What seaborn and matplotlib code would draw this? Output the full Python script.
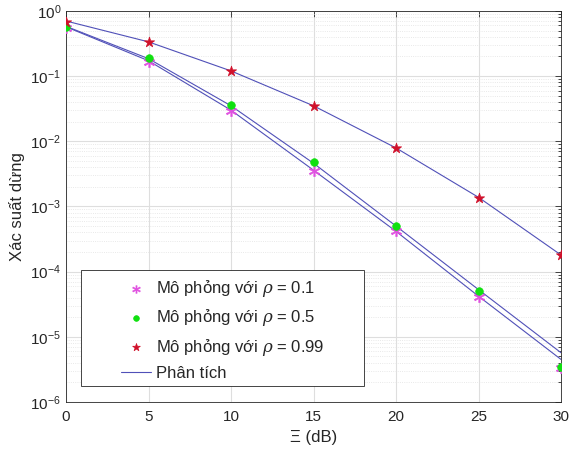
import numpy as np
import pandas as pd
import matplotlib
matplotlib.use("Agg")
import matplotlib.pyplot as plt
from matplotlib.patches import Rectangle
import seaborn as sns
from matplotlib.ticker import FixedLocator, NullFormatter, MultipleLocator, LogFormatterSciNotation

# SNR axis (dB)
xi_db = [0, 5, 10, 15, 20, 25, 30]

# Simulated outage probability
sim_rho_01 = [0.55, 0.167, 0.0296, 0.00352, 4.2e-4, 4.07e-5, 3.3e-6]
sim_rho_05 = [0.56, 0.19, 0.0357, 0.0048, 5.1e-4, 5.08e-5, 3.47e-6]
sim_rho_099 = [0.685, 0.338, 0.121, 0.0349, 0.00784, 0.00137, 1.81e-4]

# Analytical outage probability
ana_rho_01 = [0.57, 0.172, 0.0300, 0.00360, 4.15e-4, 4.2e-5, 4.5e-6]
ana_rho_05 = [0.58, 0.185, 0.0350, 0.0046, 5.0e-4, 5.3e-5, 5.7e-6]
ana_rho_099 = [0.70, 0.335, 0.120, 0.0350, 0.0079, 0.00138, 1.8e-4]

# y-axis decades
y_decades = [-6, -5, -4, -3, -2, -1, 0]

sim_labels = [r"Mô phỏng với $\rho$ = 0.1",
              r"Mô phỏng với $\rho$ = 0.5",
              r"Mô phỏng với $\rho$ = 0.99"]
ana_label = "Phân tích"

sns.set_style("white")
plt.rcParams["font.family"] = ["Liberation Sans", "DejaVu Sans"]
plt.rcParams["mathtext.fontset"] = "dejavuserif"

sim = pd.DataFrame({
    "xi": xi_db * 3,
    "p": sim_rho_01 + sim_rho_05 + sim_rho_099,
    "case": [sim_labels[0]] * 7 + [sim_labels[1]] * 7 + [sim_labels[2]] * 7,
})
ana = pd.DataFrame({
    "xi": xi_db * 3,
    "p": ana_rho_01 + ana_rho_05 + ana_rho_099,
    "curve": ["a"] * 7 + ["b"] * 7 + ["c"] * 7,
})

fig = plt.figure(figsize=(5.69, 4.54), dpi=100)
ax = fig.add_axes([0.116, 0.1145, 0.870, 0.8615])

line_color = "#5050b8"
sns.lineplot(data=ana, x="xi", y="p", units="curve", estimator=None,
             color=line_color, linewidth=0.8, ax=ax, legend=False)

marker_styles = {
    sim_labels[0]: dict(marker="$\\ast$", color="#e050e0", s=55),
    sim_labels[1]: dict(marker="o", color="#10e010", s=30),
    sim_labels[2]: dict(marker="*", color="#d0102a", s=60),
}
for lab in sim_labels:
    st = marker_styles[lab]
    sns.scatterplot(data=sim[sim["case"] == lab], x="xi", y="p",
                    marker=st["marker"], color=st["color"], s=st["s"],
                    edgecolor=st["color"] if st["marker"] != "$\\ast$" else None,
                    linewidth=0.5, ax=ax, label=lab, zorder=3)

ax.plot([], [], color=line_color, linewidth=0.8, label=ana_label)

ax.set_yscale("log")
ax.set_xlim(0, 30)
ax.set_ylim(1e-6, 1)
ax.xaxis.set_major_locator(MultipleLocator(5))
major_y = [10.0 ** d for d in y_decades]
minor_y = [m * 10.0 ** d for d in y_decades[:-1] for m in range(2, 10)]
ax.yaxis.set_major_locator(FixedLocator(major_y))
ax.yaxis.set_major_formatter(LogFormatterSciNotation())
ax.yaxis.set_minor_locator(FixedLocator(minor_y))
ax.yaxis.set_minor_formatter(NullFormatter())

ax.grid(True, which="major", color="#dedede", linewidth=0.8, linestyle="-")
ax.grid(True, which="minor", axis="y", color="#e2e2e2", linewidth=0.6, linestyle=":")
ax.set_axisbelow(True)

for s in ax.spines.values():
    s.set_color("#262626")
    s.set_linewidth(0.6)
ax.tick_params(which="both", direction="in", top=True, right=True,
               colors="#262626", labelsize=11, width=0.6)
ax.tick_params(which="major", length=4)
ax.tick_params(which="minor", length=2)
ax.tick_params(axis="x", pad=6)

ax.set_xlabel("Ξ (dB)", fontsize=12, color="#262626")
ax.set_ylabel("Xác suất dừng", fontsize=12, color="#262626")

# Legend box drawn as a separate frame, entries placed inside it
box = Rectangle((0.0303, 0.041), 0.572, 0.2966, transform=ax.transAxes,
                facecolor="white", edgecolor="#262626", linewidth=0.6, zorder=4)
ax.add_patch(box)
leg = ax.legend(loc="upper left", bbox_to_anchor=(0.10, 0.330), fontsize=12,
                frameon=False, borderaxespad=0, borderpad=0.3,
                labelspacing=0.5, handlelength=1.8, handletextpad=0.35,
                markerscale=0.75)
leg.set_zorder(5)

fig.savefig("out.png", dpi=100)
